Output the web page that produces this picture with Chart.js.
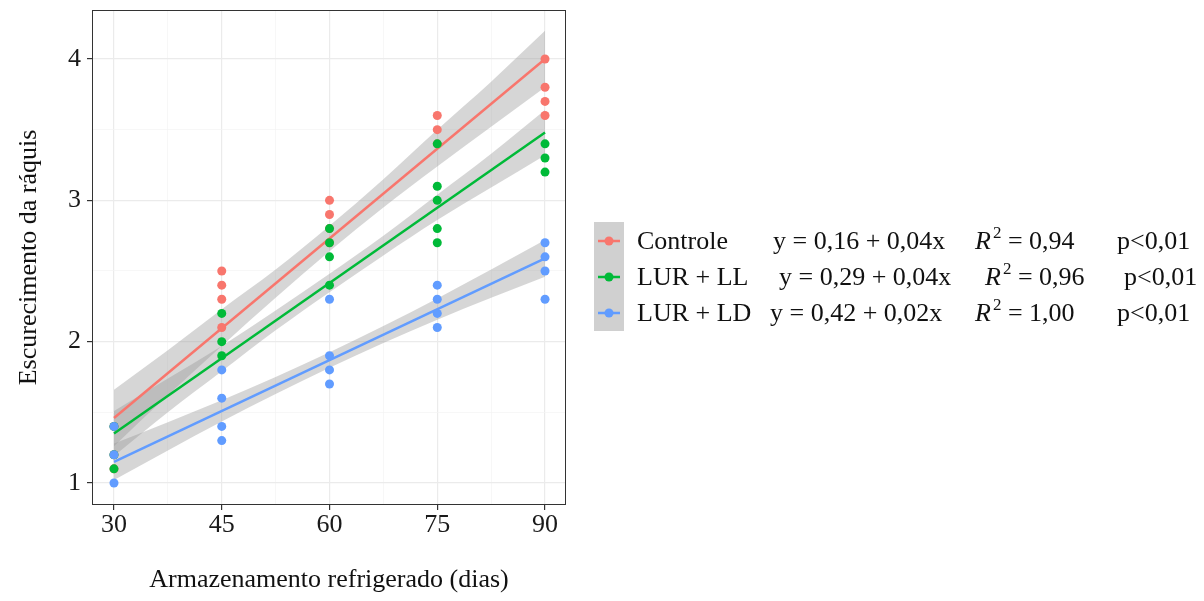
<!DOCTYPE html>
<html>
<head>
<meta charset="utf-8">
<script src="https://cdn.jsdelivr.net/npm/chart.js@4.4.1/dist/chart.umd.min.js"></script>
<style>
  html, body { margin: 0; padding: 0; background: #fff; }
  #wrap { position: relative; width: 1204px; height: 601px; font-family: "Liberation Serif", "DejaVu Serif", serif; color: #111; }
  #chart { position: absolute; left: 0; top: 0; }
  .key { position: absolute; left: 594px; top: 222px; width: 30px; height: 109px; background: #d0d0d0; }
  .row { position: absolute; height: 36px; line-height: 36px; font-size: 26px; white-space: nowrap; }
  sup { font-size: 17px; vertical-align: 0; position: relative; top: -11px; margin-left: 2px; }
</style>
</head>
<body>
<div id="wrap">
  <canvas id="chart" width="1204" height="601"></canvas>
  <div class="key"></div>
  <div id="legendBox"></div>
</div>
<script>
// dados
const dias = [30, 45, 60, 75, 90];
const controlePts = [[1.4, 1.2, 1.1], [2.5, 2.4, 2.3, 2.1], [3.0, 2.9, 2.8, 2.7], [3.6, 3.5, 3.4], [4.0, 3.8, 3.7, 3.6]];
const llPts = [[1.4, 1.2, 1.1], [2.2, 2.0, 1.9], [2.8, 2.7, 2.6, 2.4], [3.4, 3.1, 3.0, 2.8, 2.7], [3.4, 3.3, 3.2]];
const ldPts = [[1.4, 1.2, 1.0], [1.8, 1.6, 1.4, 1.3], [2.3, 1.9, 1.8, 1.7], [2.4, 2.3, 2.2, 2.1], [2.7, 2.6, 2.5, 2.3]];

// retas ajustadas (extremos em 30 e 90 dias)
const ajusteX = [30, 90];
const ajusteControle = [1.46, 4.00];
const ajusteLL = [1.35, 3.48];
const ajusteLD = [1.15, 2.59];

// faixas de confiança
const faixaX = [30, 37.5, 45, 52.5, 60, 67.5, 75, 82.5, 90];
const controleSup = [1.66, 1.94, 2.23, 2.51, 2.82, 3.15, 3.50, 3.84, 4.20];
const controleInf = [1.26, 1.62, 1.97, 2.31, 2.64, 2.95, 3.24, 3.52, 3.80];
const llSup = [1.51, 1.74, 1.97, 2.22, 2.48, 2.75, 3.04, 3.33, 3.64];
const llInf = [1.19, 1.50, 1.79, 2.08, 2.35, 2.61, 2.86, 3.09, 3.32];
const ldSup = [1.28, 1.43, 1.585, 1.75, 1.925, 2.11, 2.305, 2.51, 2.72];
const ldInf = [1.02, 1.23, 1.435, 1.63, 1.815, 1.99, 2.155, 2.31, 2.46];

const xMajor = [30, 45, 60, 75, 90];
const xMinor = [37.5, 52.5, 67.5, 82.5];
const yMajor = [1, 2, 3, 4];
const yMinor = [1.5, 2.5, 3.5];

const grupos = ["Controle", "LUR + LL", "LUR + LD"];
const cores = ["#F8766D", "#00BA38", "#619CFF"];
const equacoes = ["y = 0,16 + 0,04x", "y = 0,29 + 0,04x", "y = 0,42 + 0,02x"];
const r2 = ["0,94", "0,96", "1,00"];
const pval = ["p<0,01", "p<0,01", "p<0,01"];

const font = { family: "Liberation Serif", size: 26, lineHeight: 1 };
const ribbonFill = "rgba(153,153,153,0.4)";

function toPoints(pts) {
  const out = [];
  pts.forEach((vals, i) => vals.forEach(v => out.push({ x: dias[i], y: v })));
  return out;
}

function toXY(xs, ys) {
  return xs.map((x, i) => ({ x, y: ys[i] }));
}

const pointSets = [controlePts, llPts, ldPts];
const fitSets = [ajusteControle, ajusteLL, ajusteLD];
const bandSets = [[controleSup, controleInf], [llSup, llInf], [ldSup, ldInf]];

const datasets = [];
// pontos: LD por cima, depois LL, depois Controle
[2, 1, 0].forEach(g => {
  datasets.push({
    type: "scatter", data: toPoints(pointSets[g]),
    backgroundColor: cores[g], borderWidth: 0, pointRadius: 4.5, order: 3 - g
  });
});
[2, 1, 0].forEach(g => {
  datasets.push({
    type: "line", data: toXY(ajusteX, fitSets[g]),
    borderColor: cores[g], borderWidth: 2.5, pointRadius: 0, order: 10 + (3 - g)
  });
});
[0, 1, 2].forEach(g => {
  datasets.push({
    type: "line", data: toXY(faixaX, bandSets[g][0]), cubicInterpolationMode: "monotone",
    borderWidth: 0, borderColor: "transparent", pointRadius: 0, fill: "+1", backgroundColor: ribbonFill, order: 20 + g * 2
  });
  datasets.push({
    type: "line", data: toXY(faixaX, bandSets[g][1]), cubicInterpolationMode: "monotone",
    borderWidth: 0, borderColor: "transparent", pointRadius: 0, fill: false, order: 21 + g * 2
  });
});

const panelBorder = {
  id: "panelBorder",
  afterDraw(chart) {
    const { ctx, chartArea: a } = chart;
    ctx.save();
    ctx.strokeStyle = "#333333";
    ctx.lineWidth = 1;
    ctx.strokeRect(a.left + 0.5, a.top + 0.5, a.right - a.left - 1, a.bottom - a.top - 1);
    ctx.restore();
  }
};

function gridOpts(majors) {
  return {
    color: c => majors.includes(c.tick.value) ? "#EBEBEB" : "#F3F3F3",
    lineWidth: c => majors.includes(c.tick.value) ? 1.2 : 0.7,
    tickColor: c => majors.includes(c.tick.value) ? "#333333" : "rgba(0,0,0,0)",
    tickLength: 5
  };
}

new Chart(document.getElementById("chart"), {
  type: "scatter",
  data: { datasets },
  options: {
    responsive: false,
    animation: false,
    layout: { padding: { top: 10, right: 638, left: 0, bottom: 0 } },
    plugins: {
      legend: { display: false },
      tooltip: { enabled: false },
      filler: { drawTime: "beforeDatasetsDraw" }
    },
    scales: {
      x: {
        type: "linear", min: 26.94, max: 92.92,
        afterBuildTicks: s => { s.ticks = xMajor.concat(xMinor).map(v => ({ value: v })); },
        afterFit: s => { s.height = 96; s.paddingLeft = 0; s.paddingRight = 0; },
        ticks: { callback: v => xMajor.includes(v) ? String(v) : "", font, color: "#1a1a1a", padding: 2, autoSkip: false, maxRotation: 0 },
        grid: gridOpts(xMajor),
        border: { display: false },
        title: { display: true, text: "Armazenamento refrigerado (dias)", font: { family: "Liberation Serif", size: 26 }, color: "#111", padding: { top: 0, bottom: 5 } }
      },
      y: {
        type: "linear", min: 0.844, max: 4.347,
        afterBuildTicks: s => { s.ticks = yMajor.concat(yMinor).map(v => ({ value: v })); },
        afterFit: s => { s.width = 92; s.paddingTop = 0; s.paddingBottom = 0; },
        ticks: { callback: v => yMajor.includes(v) ? String(v) : "", font, color: "#1a1a1a", padding: 6, autoSkip: false },
        grid: gridOpts(yMajor),
        border: { display: false },
        title: { display: true, text: "Escurecimento da ráquis", font: { family: "Liberation Serif", size: 26 }, color: "#111", padding: { top: 14, bottom: 0 } }
      }
    }
  },
  plugins: [panelBorder]
});

// legenda
const colEq = [773, 779, 770];
const colR = [975, 985, 975];
const colP = [1117, 1124, 1117];
const rowY = [241, 277, 313];
const legendBox = document.getElementById("legendBox");
grupos.forEach((nome, i) => {
  const top = rowY[i] - 18;
  legendBox.innerHTML +=
    `<svg style="position:absolute;left:594px;top:${top}px" width="30" height="36">
       <line x1="4" y1="18" x2="26" y2="18" stroke="${cores[i]}" stroke-width="2.5"/>
       <circle cx="15" cy="18" r="4.5" fill="${cores[i]}"/>
     </svg>
     <div class="row" style="left:637px;top:${top}px">${nome}</div>
     <div class="row" style="left:${colEq[i]}px;top:${top}px">${equacoes[i]}</div>
     <div class="row" style="left:${colR[i]}px;top:${top}px"><i>R</i><sup>2</sup> = ${r2[i]}</div>
     <div class="row" style="left:${colP[i]}px;top:${top}px">${pval[i]}</div>`;
});
</script>
</body>
</html>
